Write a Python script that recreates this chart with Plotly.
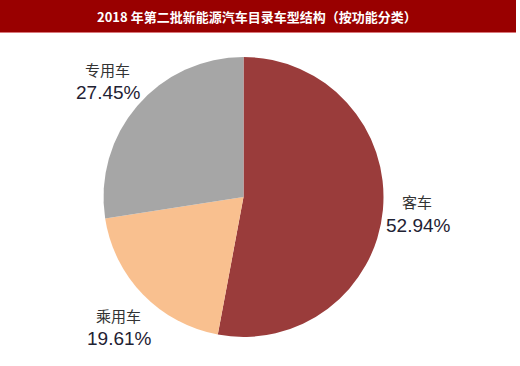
import plotly.graph_objects as go

title_text = "2018 年第二批新能源汽车目录车型结构（按功能分类）"
categories = ["客车", "乘用车", "专用车"]
shares = [52.94, 19.61, 27.45]
colors = ["#9A3C3B", "#F9C08F", "#A6A6A6"]

W, H = 520, 366
cx, cy, r = 243.5, 197, 140

fig = go.Figure()
fig.add_trace(go.Pie(
    labels=categories,
    values=shares,
    sort=False,
    direction="clockwise",
    rotation=0,
    marker=dict(colors=colors, line=dict(width=0)),
    textinfo="none",
    hoverinfo="label+percent",
    showlegend=False,
    domain=dict(x=[(cx - r) / W, (cx + r) / W],
                y=[(H - cy - r) / H, (H - cy + r) / H]),
))

# label positions (pixels: x, y of category name line)
label_pos = [(417, 202), (118, 315), (107, 69)]
for cat, val, (lx, ly) in zip(categories, shares, label_pos):
    fig.add_annotation(
        x=lx / W, y=1 - ly / H, xref="paper", yref="paper",
        text=cat, showarrow=False, xanchor="center", yanchor="middle",
        font=dict(family="Noto Sans CJK SC", size=15, color="#333333"),
    )
    fig.add_annotation(
        x=(lx + 1) / W, y=1 - (ly + 23) / H, xref="paper", yref="paper",
        text=f"{val:.2f}%", showarrow=False, xanchor="center", yanchor="middle",
        font=dict(family="Liberation Sans, Arial", size=19, color="#1F2233"),
    )

# title bar
fig.add_shape(type="rect", xref="paper", yref="paper",
              x0=0, x1=516 / W, y0=1 - 32 / H, y1=1,
              fillcolor="#990000", line=dict(width=0), layer="below")
fig.add_shape(type="line", xref="paper", yref="paper",
              x0=0, x1=516 / W, y0=1 - 32.5 / H, y1=1 - 32.5 / H,
              line=dict(color="#D9777A", width=1))
fig.add_annotation(
    x=257 / W, y=1 - 16 / H, xref="paper", yref="paper",
    text=f"<b>{title_text}</b>", showarrow=False,
    xanchor="center", yanchor="middle",
    font=dict(family="Noto Sans CJK SC", size=13, color="white"),
)

fig.update_layout(
    width=W, height=H,
    margin=dict(l=0, r=0, t=0, b=0),
    paper_bgcolor="white",
    plot_bgcolor="white",
)

fig.write_html("out.html",
               config={"displayModeBar": False},
               post_script="document.body.style.margin='0';document.body.style.overflow='hidden';")
